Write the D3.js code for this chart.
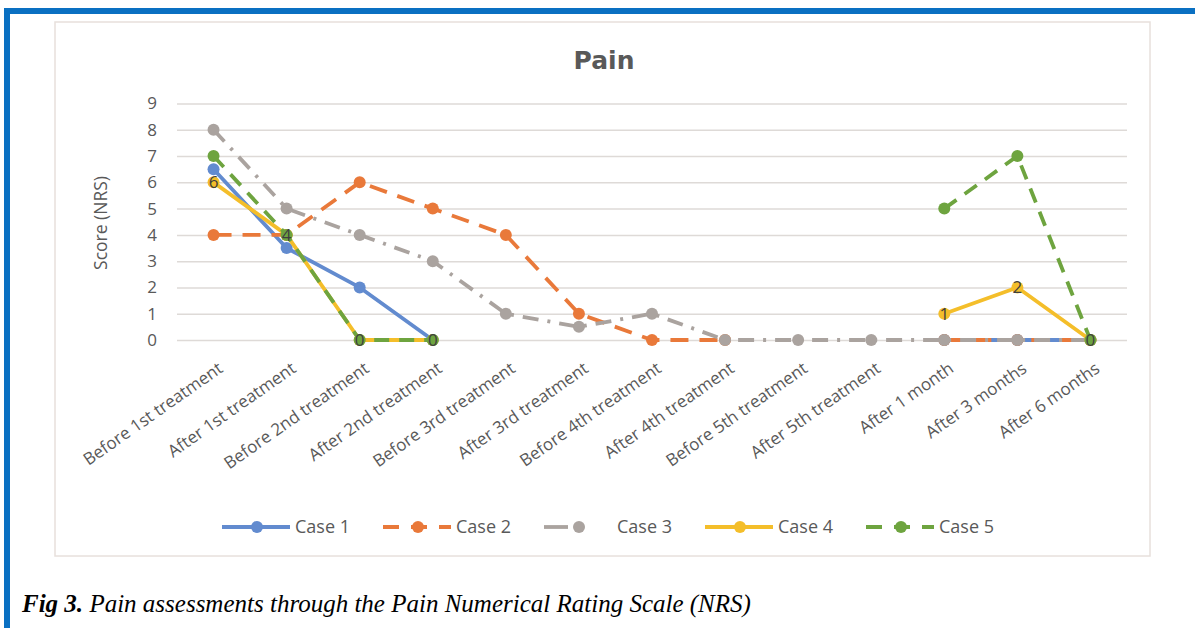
<html>
<head>
<title>Pain NRS</title>
<script src="https://d3js.org/d3.v7.min.js"></script>
<style>
body { margin: 0; background: #fff; }
svg { display: block; }
.tick text { fill: #595959; }
</style>
</head>
<body>
<svg width="1195" height="628"></svg>
<script>

var categories = ["Before 1st treatment", "After 1st treatment", "Before 2nd treatment", "After 2nd treatment",
  "Before 3rd treatment", "After 3rd treatment", "Before 4th treatment", "After 4th treatment",
  "Before 5th treatment", "After 5th treatment", "After 1 month", "After 3 months", "After 6 months"];

var seriesNames = ["Case 1", "Case 2", "Case 3", "Case 4", "Case 5"];

// null = no point for that visit
var case1 = [6.5, 3.5, 2, 0, null, null, null, null, null, null, 0, 0, 0];
var case2 = [4, 4, 6, 5, 4, 1, 0, 0, null, null, 0, 0, 0];
var case3 = [8, 5, 4, 3, 1, 0.5, 1, 0, 0, 0, 0, 0, 0];
var case4 = [6, 4, 0, 0, null, null, null, null, null, null, 1, 2, 0];
var case5 = [7, 4, 0, 0, null, null, null, null, null, null, 5, 7, 0];

var yTicks = [0, 1, 2, 3, 4, 5, 6, 7, 8, 9];

// only some points carry a value label in the original
var labelled = [
  {s: 3, i: 0}, {s: 4, i: 1}, {s: 4, i: 2}, {s: 4, i: 3},
  {s: 3, i: 10}, {s: 3, i: 11}, {s: 4, i: 12}
];

var colors = ["#628bcf", "#e9793a", "#aaa39f", "#f4be2a", "#6ea43f"];
var dashes = ["none", "18,11", "16,9,3,9", "none", "15,10"];

var allSeries = [case1, case2, case3, case4, case5];

var svg = d3.select("svg");

// page frame (blue rule of the journal figure)
svg.append("rect").attr("x", 4).attr("y", 8).attr("width", 1195).attr("height", 6).attr("fill", "#0a70c2");
svg.append("rect").attr("x", 4).attr("y", 8).attr("width", 6).attr("height", 620).attr("fill", "#0a70c2");

// chart area box
svg.append("rect").attr("x", 55).attr("y", 22).attr("width", 1095).attr("height", 534)
  .attr("fill", "#fff").attr("stroke", "#e7e0dc").attr("stroke-width", 1.5);

var x = d3.scalePoint().domain(categories).range([177, 1127]).padding(0.5);
var y = d3.scaleLinear().domain([0, 9]).range([340, 103.5]);

// grid + y axis
var yAxis = svg.append("g").attr("transform", "translate(177,0)")
  .call(d3.axisLeft(y).tickValues(yTicks).tickSize(-950).tickPadding(20));
yAxis.select(".domain").remove();
yAxis.selectAll("line").attr("stroke", "#dedad7").attr("stroke-width", 1.5);
yAxis.selectAll("text").attr("font-family", "Open Sans, sans-serif").attr("font-size", 17);

svg.append("text")
  .attr("transform", "translate(107,223) rotate(-90)")
  .attr("text-anchor", "middle")
  .attr("font-family", "Open Sans, sans-serif")
  .attr("font-size", 17.5)
  .attr("fill", "#595959")
  .text("Score (NRS)");

// x axis labels
var xAxis = svg.append("g").attr("transform", "translate(0,340)")
  .call(d3.axisBottom(x).tickSize(0).tickPadding(0));
xAxis.select(".domain").remove();
xAxis.selectAll("text")
  .attr("font-family", "Open Sans, sans-serif")
  .attr("font-size", 17)
  .attr("text-anchor", "end")
  .attr("dy", null)
  .attr("y", 0)
  .attr("transform", "translate(10,31) rotate(-35)");

// title
svg.append("text")
  .attr("x", 604).attr("y", 69)
  .attr("text-anchor", "middle")
  .attr("font-family", "DejaVu Sans, sans-serif")
  .attr("font-weight", "bold")
  .attr("font-size", 25)
  .attr("fill", "#595959")
  .text("Pain");

var line = d3.line()
  .defined(function (d) { return d != null; })
  .x(function (d, i) { return x(categories[i]); })
  .y(function (d) { return y(d); });

var plot = svg.append("g");

allSeries.forEach(function (vals, s) {
  plot.append("path")
    .datum(vals)
    .attr("fill", "none")
    .attr("stroke", colors[s])
    .attr("stroke-width", 3.8)
    .attr("stroke-dasharray", dashes[s])
    .attr("stroke-linejoin", "round")
    .attr("d", line);

  plot.selectAll("circle.s" + s)
    .data(vals.map(function (v, i) { return {v: v, i: i}; }).filter(function (d) { return d.v != null; }))
    .enter().append("circle")
    .attr("class", "s" + s)
    .attr("cx", function (d) { return x(categories[d.i]); })
    .attr("cy", function (d) { return y(d.v); })
    .attr("r", 6)
    .attr("fill", colors[s]);
});

// value labels
svg.selectAll("text.vlab")
  .data(labelled).enter().append("text")
  .attr("class", "vlab")
  .attr("x", function (d) { return x(categories[d.i]); })
  .attr("y", function (d) { return y(allSeries[d.s][d.i]) + 6; })
  .attr("text-anchor", "middle")
  .attr("font-family", "Open Sans, sans-serif")
  .attr("font-size", 17)
  .attr("fill", "#3f3f3f")
  .text(function (d) { return allSeries[d.s][d.i]; });

// legend
var legend = svg.append("g").attr("transform", "translate(222,527)");
seriesNames.forEach(function (name, s) {
  var g = legend.append("g").attr("transform", "translate(" + (s * 161) + ",0)");
  g.append("line").attr("x1", 0).attr("x2", 68).attr("y1", 0).attr("y2", 0)
    .attr("stroke", colors[s]).attr("stroke-width", 3.8)
    .attr("stroke-dasharray", s == 2 ? "24,44" : (dashes[s] == "none" ? null : "16,12"));
  g.append("circle").attr("cx", 35).attr("cy", 0).attr("r", 6).attr("fill", colors[s]);
  g.append("text").attr("x", 73).attr("y", 6)
    .attr("font-family", "Open Sans, sans-serif")
    .attr("font-size", 18)
    .attr("fill", "#595959")
    .text(name);
});

// caption
var cap = svg.append("text").attr("x", 22).attr("y", 612)
  .attr("font-family", "Liberation Serif, serif")
  .attr("font-style", "italic")
  .attr("font-size", 25)
  .attr("fill", "#000");
cap.append("tspan").attr("font-weight", "bold").text("Fig 3.");
cap.append("tspan").text(" Pain assessments through the Pain Numerical Rating Scale (NRS)");

</script>
</body>
</html>
